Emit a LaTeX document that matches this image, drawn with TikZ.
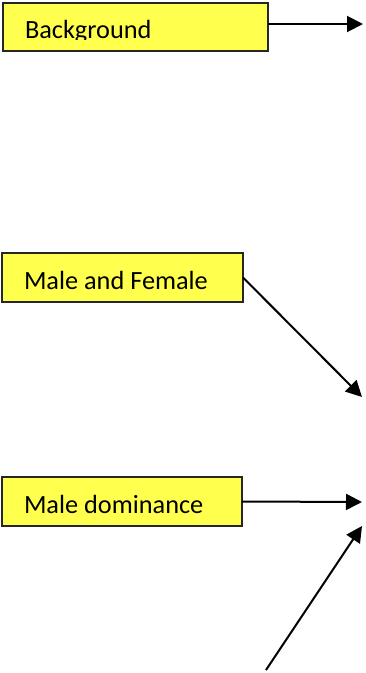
\documentclass[tikz,border=0pt]{standalone}
\usepackage{fontspec}
\setmainfont{Carlito}
\usetikzlibrary{arrows.meta}
\definecolor{boxyellow}{RGB}{255,255,77}
\tikzset{
  box/.style={draw=black!85, line width=1.5pt, fill=boxyellow, inner sep=0pt, outer sep=0pt},
  lbl/.style={anchor=base west, inner sep=0pt, outer sep=0pt, font=\fontsize{26.3}{31}\selectfont},
  conn/.style={line width=2pt, -{Triangle[length=16pt,width=16pt]}}
}
\begin{document}
\begin{tikzpicture}[x=1pt,y=1pt]
\useasboundingbox (0,0) rectangle (365,-673);
\node[box, minimum width=265pt, minimum height=48pt] (b1) at (135.5,-27) {};
\node[box, minimum width=241pt, minimum height=49pt] (b2) at (122.5,-277.5) {};
\node[box, minimum width=240pt, minimum height=49pt] (b3) at (122,-501.5) {};
\begin{scope}
  \clip (3,-3) rectangle (268,-39.5);
  \node[lbl] (l1) at (25,-38) {Background};
\end{scope}
\node[lbl] (l2) at (24,-289) {Male and Female};
\node[lbl] (l3) at (24,-513) {Male dominance};
\coordinate (t1) at (363,-24);
\coordinate (t2) at (362,-397);
\coordinate (t3) at (362,-502);
\coordinate (t4) at (362,-526);
\coordinate (s4) at (266,-670);
\draw[conn] ([yshift=3pt]b1.east) -- (t1);
\draw[conn] (b2.east) -- (t2);
\draw[conn] (b3.east) -- (t3);
\draw[conn] (s4) -- (t4);
\end{tikzpicture}
\end{document}
